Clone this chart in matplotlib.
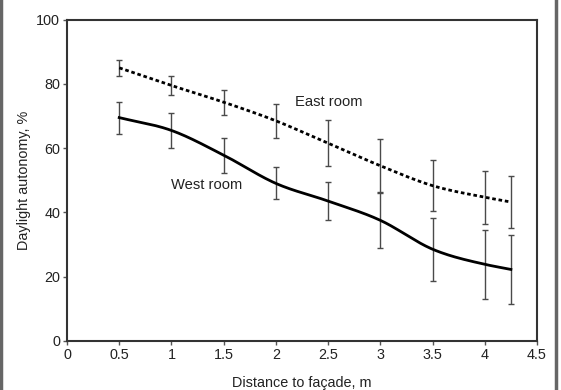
import numpy as np
import matplotlib
matplotlib.use("Agg")
import matplotlib.pyplot as plt
from matplotlib.lines import Line2D

plt.rcParams['font.family'] = ['Liberation Sans', 'DejaVu Sans']

distance = [0.5, 1.0, 1.5, 2.0, 2.5, 3.0, 3.5, 4.0, 4.25]
east_mean = [85.0, 79.5, 74.3, 68.5, 61.5, 54.5, 48.3, 44.7, 43.2]
east_err = [2.6, 3.1, 3.9, 5.3, 7.2, 8.3, 8.0, 8.2, 8.1]
west_mean = [69.5, 65.5, 57.8, 49.0, 43.5, 37.5, 28.5, 23.8, 22.2]
west_err = [5.0, 5.4, 5.5, 5.0, 5.9, 8.5, 9.8, 10.7, 10.8]

x_ticks = [0, 0.5, 1, 1.5, 2, 2.5, 3, 3.5, 4, 4.5]
x_ticklabels = ['0', '0.5', '1', '1.5', '2', '2.5', '3', '3.5', '4', '4.5']
y_ticks = [0, 20, 40, 60, 80, 100]


def smooth(xs, ys, n=30):
    xs = np.asarray(xs, float)
    ys = np.asarray(ys, float)
    m = np.gradient(ys, xs)
    ox, oy = [], []
    for i in range(len(xs) - 1):
        h = xs[i + 1] - xs[i]
        t = np.linspace(0, 1, n, endpoint=False)
        h00 = 2 * t**3 - 3 * t**2 + 1
        h10 = t**3 - 2 * t**2 + t
        h01 = -2 * t**3 + 3 * t**2
        h11 = t**3 - t**2
        ox.extend(xs[i] + t * h)
        oy.extend(h00 * ys[i] + h10 * h * m[i] + h01 * ys[i + 1] + h11 * h * m[i + 1])
    ox.append(xs[-1])
    oy.append(ys[-1])
    return np.array(ox), np.array(oy)


W, H = 561, 390
fig = plt.figure(figsize=(W / 100, H / 100), dpi=100)
L, R, T, B = 67, 537, 19.7, 340.7
ax = fig.add_axes([L / W, 1 - B / H, (R - L) / W, (B - T) / H])

ecol = '#4a4a4a'
ax.errorbar(distance, east_mean, yerr=east_err, fmt='none', ecolor=ecol,
            elinewidth=1.0, capsize=2, capthick=1.0, zorder=2)
ax.errorbar(distance, west_mean, yerr=west_err, fmt='none', ecolor=ecol,
            elinewidth=1.0, capsize=2, capthick=1.0, zorder=2)

sx, sy = smooth(distance, east_mean)
ax.plot(sx, sy, color='black', lw=2.0, linestyle=(0, (1.3, 1.0)), zorder=3)
sx, sy = smooth(distance, west_mean)
ax.plot(sx, sy, color='black', lw=2.0, zorder=3)

ax.text(2.18, 74.5, 'East room', fontsize=10.6, ha='left', va='center', color='#222222')
ax.text(0.995, 48.5, 'West room', fontsize=10.6, ha='left', va='center', color='#222222')

ax.set_xlim(0, 4.5)
ax.set_ylim(0, 100)
ax.set_xticks(x_ticks)
ax.set_xticklabels(x_ticklabels)
ax.set_yticks(y_ticks)
ax.tick_params(direction='out', length=3, width=1, colors='#555555',
               labelcolor='#222222', labelsize=10.4, pad=2)
for s in ax.spines.values():
    s.set_linewidth(1.5)
    s.set_color('#333333')

ax.set_xlabel('Distance to façade, m', fontsize=10.4, color='#222222', labelpad=10)
ax.set_ylabel('Daylight autonomy, %', fontsize=10.4, color='#222222', labelpad=4)

fig.add_artist(Line2D([1 / W, 1 / W], [0, 1], color='#666666', lw=2.5, transform=fig.transFigure))
fig.add_artist(Line2D([555.5 / W, 555.5 / W], [0, 1], color='#666666', lw=2.5, transform=fig.transFigure))

fig.savefig('out.png', dpi=100)
